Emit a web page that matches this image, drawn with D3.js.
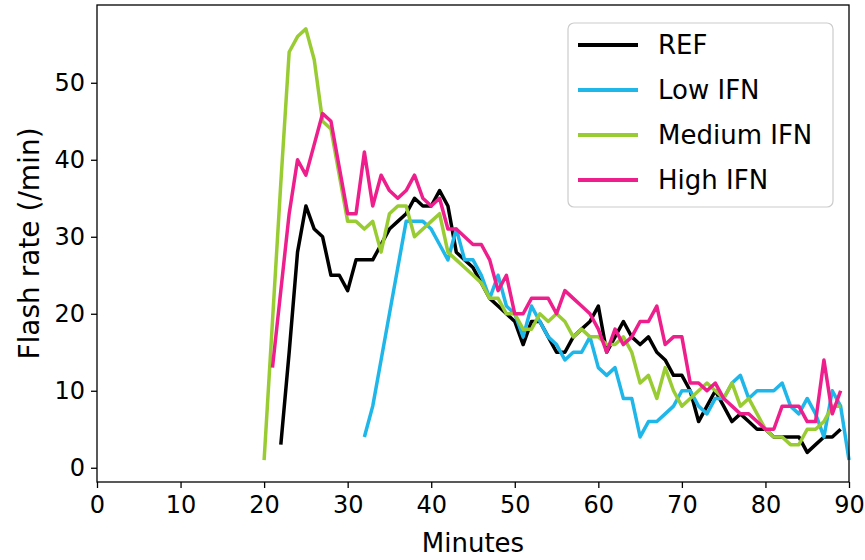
<!DOCTYPE html>
<html>
<head>
<meta charset="utf-8">
<script src="https://cdn.jsdelivr.net/npm/d3@7/dist/d3.min.js"></script>
<style>
    body { margin: 0; background: #fff; }
    svg text { font-family: "DejaVu Sans", sans-serif; fill: #000; }
</style>
</head>
<body>
<svg class="chart" width="865" height="560"></svg>
<script>

// first minute of each run, then one value per minute
const refStart = 22;
const refValues = [3, 15, 28, 34, 31, 30, 25, 25, 23, 27, 27, 27, 29, 31, 32, 33, 35, 34, 34, 36,
    34, 28, 27, 26, 24, 22, 21, 20, 19, 16, 19, 19, 17, 15, 15, 17, 18, 19, 21, 15,
    17, 19, 17, 16, 17, 15, 14, 12, 12, 10, 6, 8, 10, 8, 6, 7, 6, 5, 5, 4,
    4, 4, 4, 2, 3, 4, 4, 5];

const lowStart = 32;
const lowValues = [4, 8, 14, 20, 26, 32, 32, 32, 31, 29, 27, 31, 27, 27, 25, 22, 25, 21, 20, 17,
    21, 19, 17, 16, 14, 15, 15, 17, 13, 12, 13, 9, 9, 4, 6, 6, 7, 8, 10, 10,
    8, 7, 9, 9, 11, 12, 9, 10, 10, 10, 11, 8, 7, 9, 7, 4, 10, 8, 1];

const mediumStart = 20;
const mediumValues = [1, 19, 37, 54, 56, 57, 53, 45, 44, 38, 32, 32, 31, 32, 28, 33, 34, 34, 30, 31,
    32, 33, 28, 27, 26, 25, 24, 22, 22, 20, 20, 18, 18, 20, 19, 20, 19, 17, 18, 17,
    17, 16, 16, 17, 15, 11, 12, 9, 13, 10, 8, 9, 10, 11, 10, 9, 11, 8, 9, 7,
    5, 4, 4, 3, 3, 5, 5, 6, 8, 8];

const highStart = 21;
const highValues = [13, 23, 33, 40, 38, 42, 46, 45, 39, 33, 33, 41, 34, 38, 36, 35, 36, 38, 35, 34,
    35, 31, 31, 30, 29, 29, 27, 23, 25, 20, 20, 22, 22, 22, 20, 23, 22, 21, 20, 18,
    15, 18, 16, 17, 19, 19, 21, 16, 17, 17, 11, 11, 10, 11, 9, 8, 7, 7, 6, 5,
    5, 8, 8, 8, 6, 6, 14, 7, 10];

const seriesNames = ['REF', 'Low IFN', 'Medium IFN', 'High IFN'];
const seriesColors = ['#000000', '#1fb6ea', '#99cc33', '#ee1f8c'];
const xTicks = [0, 10, 20, 30, 40, 50, 60, 70, 80, 90];
const yTicks = [0, 10, 20, 30, 40, 50];

function toPoints(start, values) {
    return values.map((v, i) => ({ minute: start + i, value: v }));
}

const series = [
    toPoints(refStart, refValues),
    toPoints(lowStart, lowValues),
    toPoints(mediumStart, mediumValues),
    toPoints(highStart, highValues)
];

const plot = { left: 97, right: 849, top: 5, bottom: 482 };

const x = d3.scaleLinear().domain([0, 90]).range([plot.left, plot.right]);
const y = d3.scaleLinear().domain([-1.85, 60.1]).range([plot.bottom, plot.top]);

const svg = d3.select('svg.chart');

const line = d3.line()
    .x(d => x(d.minute))
    .y(d => y(d.value));

svg.append('g')
    .selectAll('path')
    .data(series)
    .enter().append('path')
        .attr('d', line)
        .attr('fill', 'none')
        .attr('stroke', (d, i) => seriesColors[i])
        .attr('stroke-width', 3.5)
        .attr('stroke-linejoin', 'round');

// frame
svg.append('rect')
    .attr('x', plot.left)
    .attr('y', plot.top)
    .attr('width', plot.right - plot.left)
    .attr('height', plot.bottom - plot.top)
    .attr('fill', 'none')
    .attr('stroke', '#000')
    .attr('stroke-width', 1.3);

const xAxis = svg.append('g')
    .attr('transform', 'translate(0,' + plot.bottom + ')')
    .call(d3.axisBottom(x).tickValues(xTicks).tickSize(6).tickPadding(8));

const yAxis = svg.append('g')
    .attr('transform', 'translate(' + plot.left + ',0)')
    .call(d3.axisLeft(y).tickValues(yTicks).tickSize(6).tickPadding(6));

[xAxis, yAxis].forEach(axis => {
    axis.select('.domain').remove();
    axis.selectAll('line').attr('stroke', '#000').attr('stroke-width', 1.3);
    axis.selectAll('text')
        .style('font-family', '"DejaVu Sans", sans-serif')
        .style('font-size', '24px')
        .attr('fill', '#000');
});

svg.append('text')
    .attr('x', (plot.left + plot.right) / 2)
    .attr('y', 552)
    .attr('text-anchor', 'middle')
    .style('font-size', '26px')
    .text('Minutes');

svg.append('text')
    .attr('transform', 'translate(39,' + ((plot.top + plot.bottom) / 2) + ') rotate(-90)')
    .attr('text-anchor', 'middle')
    .style('font-size', '28px')
    .text('Flash rate (/min)');

// legend
const legend = svg.append('g');

legend.append('rect')
    .attr('x', 568)
    .attr('y', 23)
    .attr('width', 265)
    .attr('height', 184)
    .attr('rx', 6)
    .attr('fill', '#fff')
    .attr('fill-opacity', 0.85)
    .attr('stroke', '#cccccc')
    .attr('stroke-width', 1.2);

const rows = legend.selectAll('g.row')
    .data(seriesNames)
    .enter().append('g')
        .attr('class', 'row')
        .attr('transform', (d, i) => 'translate(0,' + (45 + i * 45) + ')');

rows.append('line')
    .attr('x1', 578)
    .attr('x2', 638)
    .attr('stroke', (d, i) => seriesColors[i])
    .attr('stroke-width', 4);

rows.append('text')
    .attr('x', 658)
    .attr('dy', '0.36em')
    .style('font-size', '26px')
    .text(d => d);

</script>
</body>
</html>
